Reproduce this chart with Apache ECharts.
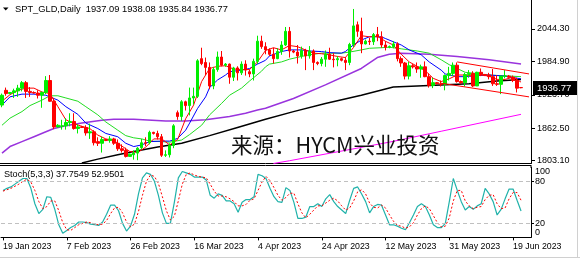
<!DOCTYPE html>
<html><head><meta charset="utf-8">
<script src="https://cdn.jsdelivr.net/npm/echarts@6/dist/echarts.min.js"></script>
<style>html,body{margin:0;padding:0;background:#fff;}#wrap{position:relative;width:580px;height:260px;}#c{width:580px;height:260px;}
#lbl100{position:absolute;left:535px;top:166px;font:9px "Liberation Sans";color:#000;line-height:11px;pointer-events:none;}</style>
</head><body><div id="wrap"><div id="c"></div><div id="lbl100"></div></div>
<script>
// ---------- data ----------
const symbolName = 'SPT_GLD,Daily';
const dateLabels = ['19 Jan 2023','7 Feb 2023','26 Feb 2023','16 Mar 2023','4 Apr 2023','24 Apr 2023','12 May 2023','31 May 2023','19 Jun 2023'];
const labelStep = 16;
const emptyBarsRight = 2;
const priceTicks = [2044.30, 1984.90, 1923.70, 1862.50, 1803.10];
const stochTicks = [0, 20, 80, 100];
const stochLevels = [20, 80];
const stochTitle = 'Stoch(5,3,3)';
const watermark = '来源：HYCM兴业投资';

const open = [1905,1932,1926,1928,1931,1936,1946,1930,1928,1927,
 1923,1928,1950,1912,1865,1866,1867,1873,1875,1862,
 1865,1864,1854,1856,1838,1835,1842,1840,1843,1835,
 1825,1822,1811,1814,1817,1827,1836,1836,1855,1853,
 1847,1813,1814,1831,1891,1884,1911,1904,1918,1921,
 1990,1983,1974,1940,1970,1993,1978,1980,1956,1973,
 1964,1980,1966,1962,1985,2022,2012,2006,1998,1990,
 2003,2015,2040,2004,2002,1995,2005,1995,2004,1983,
 1981,1989,1998,1989,1988,1990,1987,1983,2016,2052,
 2040,2017,2022,2021,2034,2030,2015,2011,2012,2017,
 1990,1982,1958,1977,1975,1971,1975,1957,1941,1946,
 1944,1943,1959,1963,1978,1948,1946,1961,1963,1940,
 1965,1961,1960,1957,1944,1943,1958,1958,1956,1950,
 1937.09];
const high = [1926,1937,1929,1935,1942,1949,1949,1938,1930,1932,
 1930,1958,1960,1918,1870,1878,1881,1890,1890,1870,
 1867,1868,1871,1859,1846,1847,1843,1848,1845,1842,
 1833,1827,1816,1822,1828,1843,1846,1858,1856,1858,
 1852,1822,1835,1870,1895,1914,1913,1937,1937,1989,
 2010,1992,1983,1975,2003,2004,1982,1981,1975,1976,
 1985,1987,1970,1990,2032,2032,2020,2009,2010,2009,
 2022,2048,2048,2006,2015,2012,2008,2013,2007,1985,
 1993,2005,2010,2000,1995,1992,1993,2019,2081,2058,
 2065,2025,2028,2037,2048,2040,2022,2014,2022,2020,
 1994,1984,1984,1980,1983,1979,1985,1963,1955,1947,
 1950,1961,1975,1983,1983,1950,1964,1969,1967,1966,
 1972,1962,1964,1971,1960,1958,1969,1960,1959,1955,
 1938.08];
const low = [1901,1922,1925,1918,1920,1930,1918,1920,1926,1917,
 1900,1925,1911,1861,1864,1860,1860,1866,1860,1853,
 1863,1849,1843,1831,1830,1818,1839,1836,1832,1821,
 1818,1809,1810,1805,1804,1824,1830,1833,1851,1842,
 1810,1810,1809,1826,1878,1876,1895,1886,1906,1918,
 1978,1960,1934,1934,1966,1976,1975,1944,1949,1950,
 1960,1959,1956,1950,1980,2008,1998,1995,1981,1989,
 1997,2013,1992,2000,1981,1990,1969,1990,1969,1978,
 1976,1975,1988,1974,1976,1985,1969,1978,2011,2030,
 2000,2016,2015,2015,2022,2010,2005,2009,2009,1985,
 1975,1952,1952,1972,1964,1955,1956,1937,1936,1943,
 1939,1932,1950,1958,1946,1944,1939,1955,1938,1940,
 1958,1958,1952,1940,1940,1925,1954,1955,1947,1928,
 1935.84];
const close = [1923,1926,1928,1931,1936,1946,1930,1928,1927,1923,
 1928,1950,1912,1865,1868,1867,1873,1875,1862,1865,
 1864,1854,1856,1836,1835,1842,1840,1843,1835,1825,
 1822,1811,1815,1817,1826,1836,1835,1855,1853,1847,
 1813,1814,1831,1867,1884,1911,1904,1918,1921,1986,
 1981,1974,1940,1970,1993,1978,1980,1956,1973,1964,
 1980,1969,1962,1985,2022,2012,2006,1998,1990,2003,
 2015,2040,2004,2002,1995,2005,1995,2004,1983,1981,
 1989,1998,1989,1988,1990,1987,1983,2016,2050,2040,
 2017,2022,2021,2034,2030,2015,2011,2012,2017,1990,
 1982,1958,1977,1975,1971,1975,1957,1941,1946,1944,
 1943,1959,1963,1978,1948,1946,1961,1963,1940,1965,
 1961,1960,1957,1944,1943,1958,1958,1956,1950,1936,
 1936.77];

// moving-average lines: [bar, price]
const maRed = [[0,1912],[2,1924],[4,1932],[6,1936],[8,1936],[10,1929],[12,1926],[14,1902],[16,1878],[18,1871],[20,1866],[22,1862],[24,1850],[26,1843],[28,1840],[30,1830],[32,1820],[34,1818],[36,1828],[38,1843],[40,1843],[42,1832],[44,1842],[46,1880],[48,1905],[50,1948],[52,1972],[54,1976],[56,1977],[58,1971],[60,1970],[62,1970],[64,1984],[66,2005],[68,2010],[70,2006],[72,2014],[74,2012],[76,2006],[78,2000],[80,1999],[82,1997],[84,1994],[86,1992],[88,2010],[90,2032],[92,2030],[94,2031],[96,2022],[98,2015],[100,1998],[102,1984],[104,1976],[106,1968],[108,1954],[110,1948],[112,1953],[114,1960],[116,1960],[118,1958],[120,1960],[122,1958],[124,1952],[126,1952],[128,1956],[130,1947]];
const maBlue = [[0,1905],[2,1920],[5,1925],[8,1925],[11,1923],[14,1914],[16,1902],[19,1888],[21,1872],[24,1862],[26,1853],[29,1847],[31,1835],[33,1829],[35,1832],[37,1838],[40,1839],[42,1839],[44,1844],[46,1859],[47,1872],[49,1899],[51,1920],[52,1937],[54,1951],[56,1960],[57,1966],[60,1969],[62,1972],[64,1980],[66,1987],[67,1995],[70,2003],[72,2006],[75,2006],[77,2004],[80,2003],[82,2001],[85,2000],[86,2003],[88,2015],[90,2024],[92,2030],[95,2030],[96,2027],[98,2021],[100,2015],[102,2006],[105,1997],[107,1984],[110,1969],[111,1962],[114,1957],[116,1957],[119,1959],[122,1960],[126,1958],[130,1953]];
const maGreen = [[0,1868],[2,1881],[5,1893],[7,1904],[10,1914],[12,1922],[14,1922],[16,1918],[19,1912],[21,1902],[24,1887],[26,1874],[29,1859],[31,1849],[33,1845],[35,1843],[37,1839],[40,1838],[42,1837],[45,1841],[47,1851],[50,1868],[52,1887],[55,1908],[57,1923],[60,1936],[62,1949],[65,1967],[66,1975],[67,1980],[70,1984],[72,1989],[75,1994],[77,1997],[80,2000],[82,2000],[85,2000],[87,2002],[90,2006],[92,2009],[95,2010],[97,2011],[100,2008],[104,2004],[107,2000],[110,1988],[112,1979],[116,1965],[122,1960],[130,1957]];
const maPurple = [[0,1817],[2,1829],[5,1838],[8,1847],[11,1856],[13,1862],[16,1867],[20,1872],[25,1877],[28,1879],[33,1879],[41,1876],[46,1876],[51,1878],[57,1884],[61,1890],[64,1896],[66,1899],[73,1917],[81,1942],[90,1972],[94,1992],[97,1998],[100,2000],[107,1998],[114,1994],[122,1988],[130,1980]];
const maBlack = [[20,1799],[24,1806],[29,1814],[33,1820],[39,1828],[45,1835],[52,1849],[59,1864],[66,1879],[73,1893],[81,1908],[90,1923],[98,1938],[107,1941],[117,1944],[124,1949],[130,1952]];
const maMagenta = [[68,1798],[72,1803],[97,1837],[110,1857],[130,1888]];
const channelUpper = [[114,1984],[132,1962]];
const channelLower = [[110,1945],[132,1920]];

const stochMain = [67,70,72,76,80,84,84,70,48,34,
 40,58,57,40,18,6,10,14,17,22,
 22,21,19,18,17,22,33,46,46,38,
 20,9,16,33,62,85,92,90,80,60,
 35,20,20,50,85,94,92,90,86,86,
 86,82,60,56,62,60,52,52,48,36,
 50,54,54,58,90,88,84,70,58,51,
 50,71,67,50,27,27,29,44,44,48,
 44,55,61,51,44,39,34,53,70,72,
 62,51,35,44,47,46,32,18,18,16,
 13,11,21,32,44,48,44,32,18,14,
 14,20,51,84,67,51,39,44,40,45,
 48,70,62,51,32,40,55,69,69,53,
 37.7549];
const stochSignal = [66,68,70,73,76,80,83,79,67,51,
 41,44,52,52,38,21,11,10,14,18,
 20,22,21,19,18,19,24,34,42,43,
 35,22,15,19,37,60,80,89,87,77,
 58,38,25,30,52,76,90,92,89,87,
 86,85,76,66,59,59,58,55,51,45,
 45,47,53,55,67,79,87,81,71,60,
 53,57,63,63,48,35,28,33,39,45,
 45,49,53,56,52,45,39,42,52,65,
 68,62,49,43,42,46,42,32,23,17,
 16,13,15,21,32,41,45,41,31,21,
 15,16,28,52,67,67,52,45,41,43,
 44,54,60,61,48,41,42,55,64,64,
 52.9501];

// ---------- build ----------
const nBars = close.length;
const nCats = nBars + emptyBarsRight;
const cats = [];
for (let i = 0; i < nCats; i++) {
  cats.push(i % labelStep === 0 && dateLabels[i / labelStep] ? dateLabels[i / labelStep] : '');
}
const candles = open.map((o, i) => [o, close[i], low[i], high[i]]);
function sparse(pts) {
  const a = new Array(nCats).fill(null);
  pts.forEach(p => { a[p[0]] = p[1]; });
  return a;
}
const last = nBars - 1;
const titleText = symbolName + '  ' + [open[last], high[last], low[last], close[last]].map(v => v.toFixed(2)).join(' ');
const stochText = stochTitle + ' ' + stochMain[last].toFixed(4) + ' ' + stochSignal[last].toFixed(4);

const FONT = 'Liberation Sans';
const yMinMain = 1797.96, yMaxMain = 2097.41;
const stochGrid = { left: -1, top: 167.3, width: 532, height: 70.1 };

function maLine(pts, color, w) {
  return { type: 'line', xAxisIndex: 0, yAxisIndex: 0, data: sparse(pts), connectNulls: true,
    symbol: 'none', silent: true, animation: false, lineStyle: { color: color, width: w || 1 }, z: 3 };
}

document.getElementById('lbl100').textContent = String(stochTicks[3]);

const chart = echarts.init(document.getElementById('c'), null, { renderer: 'canvas' });
const option = {
  animation: false,
  backgroundColor: '#ffffff',
  grid: [
    { left: -1, top: 0, width: 532, height: 163.5 },
    stochGrid
  ],
  xAxis: [
    { type: 'category', gridIndex: 0, data: cats, boundaryGap: true,
      axisLine: { show: true, lineStyle: { color: '#000', width: 1 } },
      axisTick: { show: false }, axisLabel: { show: false }, splitLine: { show: false } },
    { type: 'category', gridIndex: 1, data: cats, boundaryGap: true,
      axisLine: { show: true, lineStyle: { color: '#000', width: 1 } },
      axisTick: { show: true, alignWithLabel: true, length: 3, lineStyle: { color: '#000' },
        interval: (i, v) => v !== '' },
      axisLabel: { show: true, interval: (i, v) => v !== '', align: 'left', margin: 5, hideOverlap: false,
        fontFamily: FONT, fontSize: 8.8, color: '#000' },
      splitLine: { show: false } }
  ],
  yAxis: [
    { type: 'value', gridIndex: 0, position: 'right', min: yMinMain, max: yMaxMain,
      axisLine: { show: true, lineStyle: { color: '#000', width: 1 } },
      axisTick: { show: true, length: 4, customValues: priceTicks, lineStyle: { color: '#000' } },
      axisLabel: { show: true, customValues: priceTicks, formatter: v => v.toFixed(2), margin: 6, hideOverlap: false,
        fontFamily: FONT, fontSize: 9, color: '#000' },
      splitLine: { show: false } },
    { type: 'value', gridIndex: 1, position: 'right', min: 0, max: 100,
      axisLine: { show: true, lineStyle: { color: '#000', width: 1 } },
      axisTick: { show: true, length: 3, customValues: stochLevels, lineStyle: { color: '#000' } },
      axisLabel: { show: true, customValues: stochLevels, margin: 4, hideOverlap: false,
        fontFamily: FONT, fontSize: 9, color: '#000' },
      splitLine: { show: false } },
    { type: 'value', gridIndex: 1, position: 'right', min: 0, max: 100,
      axisLine: { show: false }, axisTick: { show: false }, splitLine: { show: false },
      axisLabel: { show: true, customValues: [stochTicks[0]], margin: 4, hideOverlap: false, verticalAlign: 'bottom',
        fontFamily: FONT, fontSize: 9, color: '#000' } }
  ],
  series: [
    maLine(maMagenta, '#ff00ff', 1),
    maLine(maBlack, '#000000', 1.5),
    maLine(maPurple, '#9933dd', 1.5),
    maLine(maGreen, '#22dd22', 1),
    maLine(maBlue, '#0000ff', 1),
    maLine(maRed, '#ff0000', 1),
    { type: 'candlestick', xAxisIndex: 0, yAxisIndex: 0, data: candles, barWidth: 3, z: 4,
      silent: true,
      itemStyle: { color: '#00ee00', color0: '#ff0000', borderColor: '#00ee00', borderColor0: '#ff0000', borderWidth: 1 } },
    { type: 'line', xAxisIndex: 0, yAxisIndex: 0, data: sparse(channelUpper), connectNulls: true, symbol: 'none',
      lineStyle: { color: '#ff0000', width: 1 }, z: 5, silent: true },
    { type: 'line', xAxisIndex: 0, yAxisIndex: 0, data: sparse(channelLower), connectNulls: true, symbol: 'none',
      lineStyle: { color: '#ff0000', width: 1 }, z: 5, silent: true },
    { type: 'line', xAxisIndex: 1, yAxisIndex: 1, data: stochMain, symbol: 'none', silent: true,
      lineStyle: { color: '#20b2aa', width: 1.2 }, z: 3,
      markLine: { silent: true, symbol: 'none', label: { show: false },
        lineStyle: { color: '#c0c0c0', type: [4, 3], width: 1 },
        data: stochLevels.map(v => ({ yAxis: v })) } },
    { type: 'line', xAxisIndex: 1, yAxisIndex: 1, data: stochSignal, symbol: 'none', silent: true,
      lineStyle: { color: '#ff0000', width: 1, type: [2, 2] }, z: 4 }
  ]
};
chart.setOption(option);

const yLast = chart.convertToPixel({ yAxisIndex: 0 }, close[last]);
chart.setOption({
  graphic: [
    { type: 'polygon', shape: { points: [[3, 7.5], [8.5, 7.5], [5.75, 10.5]] }, style: { fill: '#000' }, z: 100 },
    { type: 'text', x: 15, y: 9, style: { text: titleText, font: '9.3px "Liberation Sans"', fill: '#000', verticalAlign: 'middle' }, z: 100 },
    { type: 'text', x: 4, y: 174, style: { text: stochText, font: '9.1px "Liberation Sans"', fill: '#000', verticalAlign: 'middle' }, z: 100 },
    { type: 'text', x: 231, y: 144.5, style: { text: watermark, font: '21.5px "Noto Sans CJK SC"', fill: '#111', verticalAlign: 'middle' }, z: 100 },
    { type: 'line', shape: { x1: 0, y1: 165.5, x2: 531, y2: 165.5 }, style: { stroke: '#000', lineWidth: 1 }, z: 100 },
    { type: 'line', shape: { x1: 531, y1: 165, x2: 531, y2: 168 }, style: { stroke: '#000', lineWidth: 1 }, z: 100 },
    { type: 'rect', shape: { x: 533, y: Math.round(yLast) - 7, width: 44, height: 14 }, style: { fill: '#000' }, z: 100 },
    { type: 'text', x: 537, y: Math.round(yLast), style: { text: close[last].toFixed(2), font: '9.5px "Liberation Sans"', fill: '#fff', verticalAlign: 'middle' }, z: 101 },
    { type: 'line', shape: { x1: 577.5, y1: 0, x2: 577.5, y2: 257 }, style: { stroke: '#d0d0d0', lineWidth: 1 }, z: 100 },
    { type: 'line', shape: { x1: 0, y1: 257.5, x2: 580, y2: 257.5 }, style: { stroke: '#d0d0d0', lineWidth: 1 }, z: 100 }
  ]
});
</script>
</body></html>
